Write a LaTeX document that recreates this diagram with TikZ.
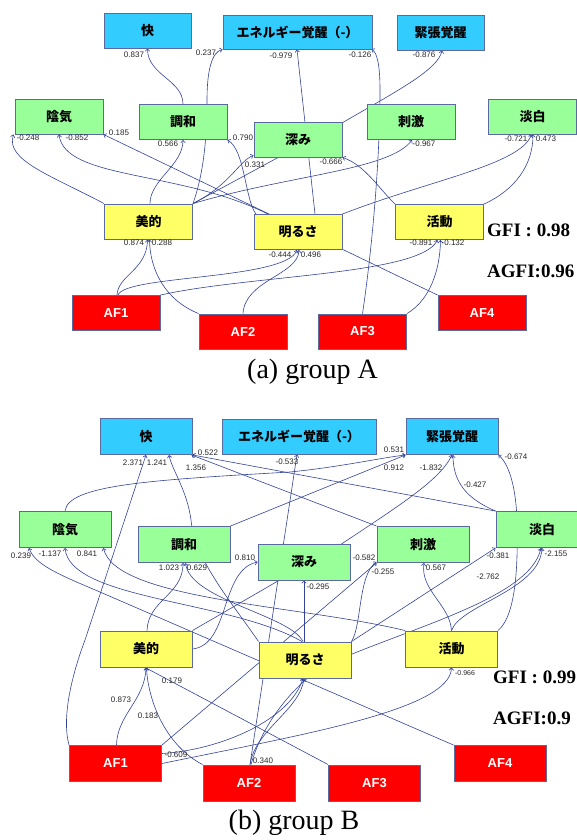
\documentclass[tikz,border=0pt]{standalone}
\usepackage{fontspec}
\newfontfamily\jp{Noto Sans CJK JP}
\newfontfamily\lab{Liberation Sans}
\newfontfamily\ser{Liberation Serif}
\usetikzlibrary{arrows.meta,backgrounds}
\definecolor{cyanbox}{HTML}{33CCFF}
\definecolor{greenbox}{HTML}{99FF99}
\definecolor{yellowbox}{HTML}{FFFF66}
\definecolor{redbox}{HTML}{FF0000}
\definecolor{bord}{HTML}{5A6AA0}
\definecolor{edgec}{HTML}{34449A}
\begin{document}
\begin{tikzpicture}[x=1pt,y=-1pt,
  boxstyle/.style={draw=bord, line width=0.9pt, inner sep=0pt, font=\jp\bfseries\fontsize{13}{15}\selectfont},
  bl/.style={boxstyle, fill=cyanbox},
  gr/.style={boxstyle, fill=greenbox},
  ye/.style={boxstyle, fill=yellowbox},
  rd/.style={boxstyle, fill=redbox, text=white, font=\lab\bfseries\fontsize{13}{15}\selectfont},
  wa/.style={minimum width=88pt, minimum height=35pt},
  wb/.style={minimum width=92pt, minimum height=36pt},
  conn/.style={draw=edgec, line width=0.6pt, -{Straight Barb[length=2.4pt,width=4.4pt]}},
  lbl/.style={font=\lab\fontsize{8}{9}\selectfont, inner sep=0pt, text=black!85},
  gfistyle/.style={font=\ser\bfseries\fontsize{19}{21}\selectfont, inner sep=0pt, anchor=west},
  capstyle/.style={font=\ser\fontsize{28}{30}\selectfont, inner sep=0pt}
]
\useasboundingbox (0,0) rectangle (577,840);
% ---------------- group A nodes
\node[bl, minimum width=87pt, minimum height=35pt] (kaiA) at (147.5,30.5) {快};
\node[bl, minimum width=149pt, minimum height=34pt] (eneA) at (297.5,32) {エネルギー覚醒（-）};
\node[bl, minimum width=87pt, minimum height=35pt] (kinA) at (440.5,32.5) {緊張覚醒};
\node[gr, wa] (inA) at (59,116.5) {陰気};
\node[gr, wa] (chA) at (183,122) {調和};
\node[gr, wa] (fukA) at (298,139.5) {深み};
\node[gr, wa] (shiA) at (411,122) {刺激};
\node[gr, wa] (tanA) at (532.5,116.5) {淡白};
\node[ye, wa] (biA) at (148.5,221.5) {美的};
\node[ye, wa] (akaA) at (298,232) {明るさ};
\node[ye, wa] (katA) at (439.5,222) {活動};
\node[rd, wa] (af1A) at (116,313) {AF1};
\node[rd, wa] (af2A) at (243,331.5) {AF2};
\node[rd, wa] (af3A) at (362.5,331.5) {AF3};
\node[rd, wa] (af4A) at (482,313) {AF4};
% ---------------- group B nodes
\node[bl, wb] (kaiB) at (146,436.5) {快};
\node[bl, minimum width=154pt, minimum height=35pt] (eneB) at (299,436.5) {エネルギー覚醒（-）};
\node[bl, wb] (kinB) at (452,436.5) {緊張覚醒};
\node[gr, wb] (inB) at (65,529.5) {陰気};
\node[gr, wb] (chB) at (184,544.5) {調和};
\node[gr, wb] (fukB) at (304,562) {深み};
\node[gr, wb] (shiB) at (423,544.5) {刺激};
\node[gr, wb] (tanB) at (542,529.5) {淡白};
\node[ye, wb] (biB) at (146,649) {美的};
\node[ye, wb] (akaB) at (305,660) {明るさ};
\node[ye, wb] (katB) at (451.5,649) {活動};
\node[rd, wb] (af1B) at (115.5,763.5) {AF1};
\node[rd, wb] (af2B) at (249,783) {AF2};
\node[rd, wb] (af3B) at (374.5,783) {AF3};
\node[rd, wb] (af4B) at (500,763.5) {AF4};

\begin{scope}[on background layer]
\fill[white] (0,0) rectangle (577,840);
% ---------------- group A connectors
\draw[conn] (chA.north) .. controls (183,80) and (147.5,75) .. (kaiA.south);
\draw[conn] (biA.north east) .. controls (205,170) and (207,130) .. (207,100) .. controls (207,70) and (212,52) .. (eneA.south west);
\draw[conn] ([xshift=17pt]akaA.north) -- ([xshift=-0.5pt]eneA.south);
\draw[conn] (af3A.north) .. controls (372,250) and (380,160) .. (380,90) .. controls (380,65) and (377,52) .. ([xshift=-1pt]eneA.south east);
\draw[conn] (biA.north east) -- (342,123) .. controls (395,92) and (438,70) .. ([xshift=1.5pt]kinA.south);
\draw[conn] (biA.north west) .. controls (50,175) and (5,160) .. ([xshift=-1pt]inA.south west);
\draw[conn] ([xshift=-30pt]akaA.north) .. controls (180,170) and (65,180) .. (inA.south);
\draw[conn] (af4A.north west) -- (inA.south east);
\draw[conn] ([xshift=1.5pt]biA.north) .. controls (150,180) and (183,165) .. (chA.south);
\draw[conn] ([xshift=-42pt]akaA.north) .. controls (245,200) and (245,150) .. (chA.south east);
\draw[conn] (biA.north east) .. controls (230,185) and (240,160) .. ([yshift=2pt]fukA.south west);
\draw[conn] (biA.north east) .. controls (290,175) and (390,170) .. ([xshift=1pt]shiA.south);
\draw[conn] (katA.north west) .. controls (380,190) and (365,165) .. (fukA.south east);
\draw[conn] (akaA.north east) .. controls (430,180) and (520,165) .. ([xshift=-1pt]tanA.south);
\draw[conn] (katA.north east) .. controls (515,190) and (533,165) .. ([xshift=0.5pt]tanA.south);
\draw[conn] ([xshift=1pt]af1A.north) .. controls (118,275) and (147,270) .. ([xshift=-1pt]biA.south);
\draw[conn] (af2A.north west) .. controls (165,300) and (150,270) .. ([xshift=1pt]biA.south);
\draw[conn] ([xshift=2pt]af1A.north) .. controls (125,275) and (285,280) .. ([xshift=-1pt]akaA.south);
\draw[conn] (af2A.north) .. controls (245,280) and (298,275) .. ([xshift=1pt]akaA.south);
\draw[conn] (af1A.north east) .. controls (250,275) and (420,275) .. ([xshift=-2pt]katA.south);
\draw[conn] (af3A.north east) .. controls (430,300) and (440,270) .. ([xshift=1pt]katA.south);
% ---------------- group B connectors
\draw[conn] (af1B.north west) .. controls (62,720) and (70,680) .. (85,640) -- (kaiB.south);
\draw[conn] (akaB.north west) .. controls (230,600) and (195,560) .. (191,520) .. controls (187,490) and (172,470) .. ([xshift=23pt]kaiB.south);
\draw[conn] (tanB.north west) -- (kaiB.south east);
\draw[conn] (shiB.north west) -- ([xshift=-1pt]kaiB.south east);
\draw[conn] ([xshift=1pt]af2B.north) -- ([xshift=-2pt]eneB.south);
\draw[conn] (inB.north) .. controls (68,485) and (150,480) .. (290,472) .. controls (340,467) and (380,458) .. (kinB.south west);
\draw[conn] (chB.north east) -- (kinB.south west);
\draw[conn] (biB.north east) -- (340,545) .. controls (400,505) and (440,480) .. (kinB.south);
\draw[conn] (tanB.north west) .. controls (470,500) and (453,485) .. ([xshift=1pt]kinB.south);
\draw[conn] (katB.north east) .. controls (517,615) and (518,560) .. (517,520) .. controls (516,490) and (510,465) .. (kinB.south east);
\draw[conn] (af4B.north west) -- (100,592) .. controls (60,575) and (35,565) .. ([xshift=-36pt]inB.south);
\draw[conn] ([xshift=-3pt]akaB.north) .. controls (230,600) and (70,600) .. (inB.south);
\draw[conn] (katB.north west) .. controls (300,605) and (115,600) .. ([xshift=-8pt]inB.south east);
\draw[conn] ([xshift=1pt]biB.north) .. controls (148,600) and (183,595) .. ([xshift=-1pt]chB.south);
\draw[conn] ([xshift=-2pt]akaB.north) .. controls (290,615) and (190,600) .. ([xshift=1.5pt]chB.south);
\draw[conn] (biB.east) .. controls (230,645) and (220,570) .. (fukB.west);
\draw[conn] ([xshift=-1pt]akaB.north) -- (fukB.south);
\draw[conn] (af1B.north east) -- (shiB.south west);
\draw[conn] (akaB.north east) .. controls (362,625) and (358,575) .. ([yshift=1pt]shiB.south west);
\draw[conn] (katB.north) .. controls (450,605) and (420,590) .. ([xshift=1pt]shiB.south);
\draw[conn] (akaB.north east) -- (tanB.south west);
\draw[conn] ([xshift=2pt]af2B.north) .. controls (262,725) and (290,690) .. (320,668) .. controls (400,630) and (530,600) .. ([xshift=-1pt]tanB.south);
\draw[conn] (katB.north) .. controls (460,605) and (540,590) .. (tanB.south);
\draw[conn] (af3B.north west) -- ([xshift=-1pt]biB.south);
\draw[conn] ([xshift=1pt]af1B.north) .. controls (117,715) and (145,700) .. (biB.south);
\draw[conn] (af2B.north west) .. controls (165,745) and (148,700) .. ([xshift=0.5pt]biB.south);
\draw[conn] ([yshift=10pt]af1B.east) .. controls (220,750) and (290,720) .. ([xshift=-2pt]akaB.south);
\draw[conn] ([xshift=1pt]af2B.north) .. controls (255,730) and (300,710) .. ([xshift=-1pt]akaB.south);
\draw[conn] (af1B.east) .. controls (300,735) and (450,710) .. (katB.south);
\end{scope}

% ---------------- group A labels
\node[lbl] (la1) at (134,55) {0.837};
\node[lbl] (la2) at (206,53) {0.237};
\node[lbl] (la3) at (281,56) {-0.979};
\node[lbl] (la4) at (360,55) {-0.126};
\node[lbl] (la5) at (424,55) {-0.876};
\node[lbl] (la6) at (28,138) {-0.248};
\node[lbl] (la7) at (77,138) {-0.852};
\node[lbl] (la8) at (119,133) {0.185};
\node[lbl] (la9) at (168,144) {0.566};
\node[lbl] (la10) at (243,138) {0.790};
\node[lbl] (la11) at (255,165) {0.331};
\node[lbl] (la12) at (331,162) {-0.666};
\node[lbl] (la13) at (424,144) {-0.967};
\node[lbl] (la14) at (516,139) {-0.721};
\node[lbl] (la15) at (546,139) {0.473};
\node[lbl] (la16) at (134,243) {0.874};
\node[lbl] (la17) at (162,243) {0.288};
\node[lbl] (la18) at (280,255) {-0.444};
\node[lbl] (la19) at (311,255) {0.496};
\node[lbl] (la20) at (421,243) {-0.891};
\node[lbl] (la21) at (453,243) {-0.132};
\node[gfistyle] (gfiA) at (487,230) {GFI : 0.98};
\node[gfistyle] (agfiA) at (487,271) {AGFI:0.96};
\node[capstyle] (capA) at (312.5,372) {(a) group A};
% ---------------- group B labels
\node[lbl] (lb1) at (133,463) {2.371};
\node[lbl] (lb2) at (157,463) {1.241};
\node[lbl] (lb3) at (208,453) {0.522};
\node[lbl] (lb4) at (196,468) {1.356};
\node[lbl] (lb5) at (287,462) {-0.533};
\node[lbl] (lb6) at (394,450) {0.531};
\node[lbl] (lb7) at (394,468) {0.912};
\node[lbl] (lb8) at (431,468) {-1.832};
\node[lbl] (lb9) at (475,485) {-0.427};
\node[lbl] (lb10) at (516,457) {-0.674};
\node[lbl] (lb11) at (21,556) {0.239};
\node[lbl] (lb12) at (50,554) {-1.137};
\node[lbl] (lb13) at (87,554) {0.841};
\node[lbl] (lb14) at (169,568) {1.023};
\node[lbl] (lb15) at (197,568) {0.629};
\node[lbl] (lb16) at (245,558) {0.810};
\node[lbl] (lb17) at (318,587) {-0.295};
\node[lbl] (lb18) at (364,558) {-0.582};
\node[lbl] (lb19) at (383,572) {-0.255};
\node[lbl] (lb20) at (436,568) {0.567};
\node[lbl] (lb21) at (498,556) {-0.381};
\node[lbl] (lb22) at (488,577) {-2.762};
\node[lbl] (lb23) at (556,554) {-2.155};
\node[lbl] (lb24) at (172,681) {0.179};
\node[lbl] (lb25) at (121,700) {0.873};
\node[lbl] (lb26) at (148,716) {0.183};
\node[lbl] (lb27) at (176,755) {-0.609};
\node[lbl] (lb28) at (263,761) {0.340};
\node[lbl, font=\lab\fontsize{7}{8}\selectfont] (lb29) at (465,673) {-0.966};
\node[gfistyle] (gfiB) at (493,677) {GFI : 0.99};
\node[gfistyle] (agfiB) at (493,718) {AGFI:0.9};
\node[capstyle] (capB) at (294,823) {(b) group B};
\end{tikzpicture}
\end{document}
